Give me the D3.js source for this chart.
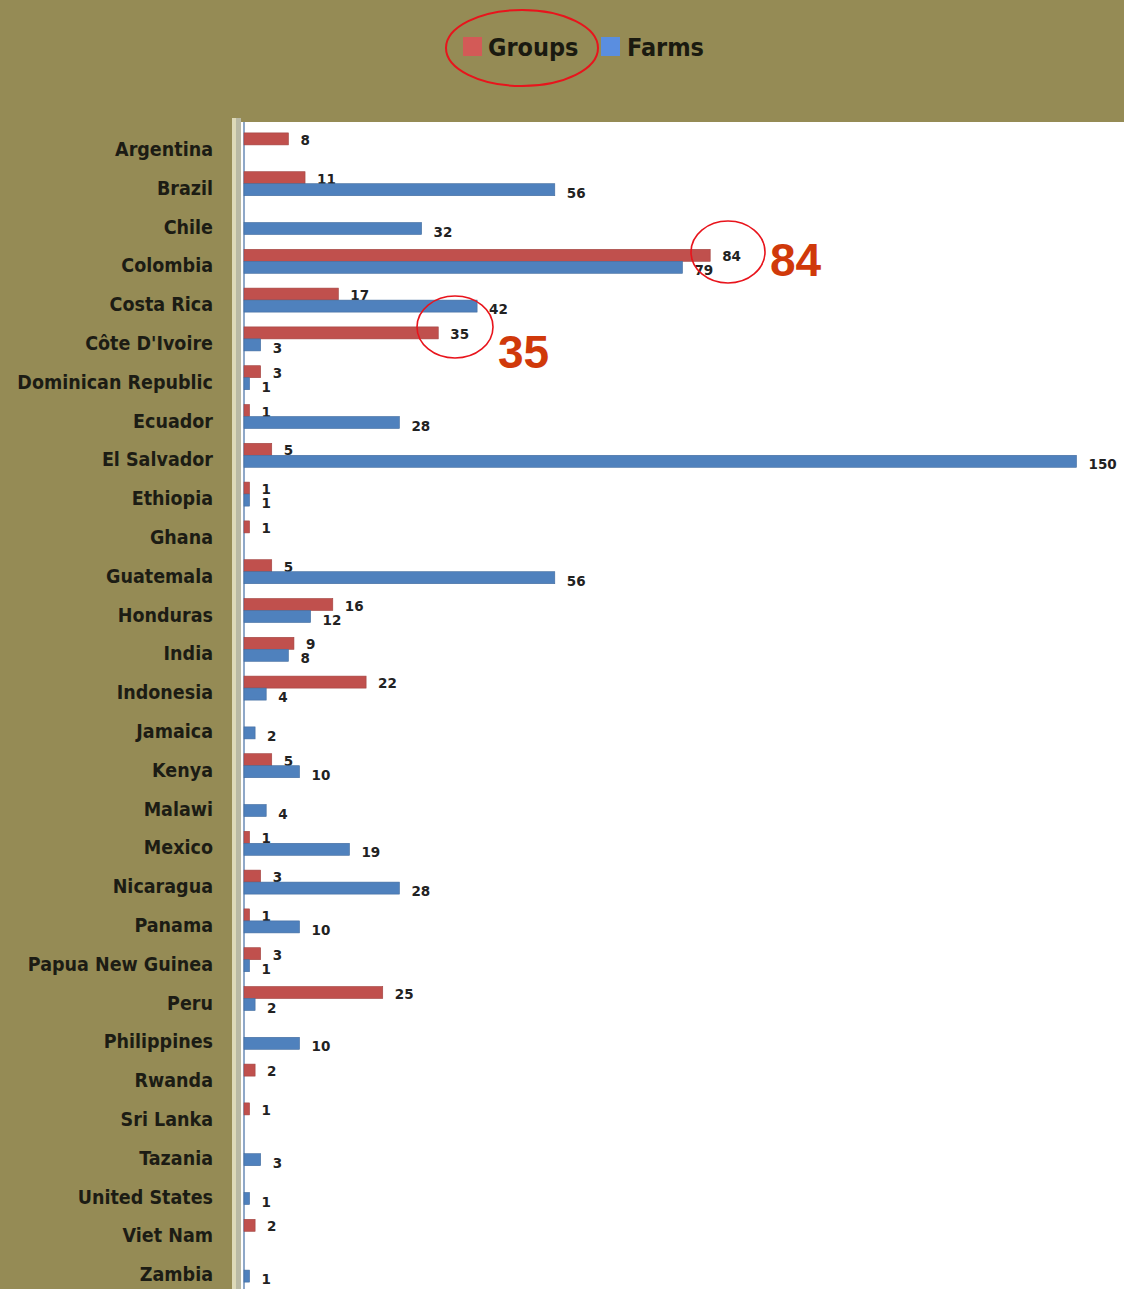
<!DOCTYPE html>
<html>
<head>
<meta charset="utf-8">
<script src="https://cdn.jsdelivr.net/npm/d3@7"></script>
<style>
  html, body { margin: 0; padding: 0; background: #958b55; }
  svg { display: block; }
</style>
</head>
<body>
<svg id="chart" width="1124" height="1289"></svg>
<script>
const countries = ["Argentina","Brazil","Chile","Colombia","Costa Rica","Côte D'Ivoire","Dominican Republic","Ecuador","El Salvador","Ethiopia","Ghana","Guatemala","Honduras","India","Indonesia","Jamaica","Kenya","Malawi","Mexico","Nicaragua","Panama","Papua New Guinea","Peru","Philippines","Rwanda","Sri Lanka","Tazania","United States","Viet Nam","Zambia"];
const groups = [8,11,null,84,17,35,3,1,5,1,1,5,16,9,22,null,5,null,1,3,1,3,25,null,2,1,null,null,2,null];
const farms  = [null,56,32,79,42,3,1,28,150,1,null,56,12,8,4,2,10,4,19,28,10,1,2,10,null,null,3,1,null,1];
const seriesNames = ["Groups","Farms"];
const seriesColors = ["#c0504d","#4f81bd"];
const highlights = [{country:"Colombia", value:84}, {country:"Côte D'Ivoire", value:35}];

const svg = d3.select("#chart");
const W = 1124, H = 1289;
const bg = "#958b55";

svg.append("rect").attr("width", W).attr("height", H).attr("fill", bg);

// plot area
svg.append("rect").attr("x", 241).attr("y", 122).attr("width", W - 241).attr("height", H - 122).attr("fill", "#ffffff");
svg.append("rect").attr("x", 232).attr("y", 118).attr("width", 4).attr("height", H - 118).attr("fill", "#ddd9b8");
svg.append("rect").attr("x", 236).attr("y", 118).attr("width", 5).attr("height", H - 118).attr("fill", "#b9b9a4");

const x = d3.scaleLinear().domain([0, 160]).range([244, 244 + 5.55 * 160]);
const y = d3.scaleBand().domain(countries).range([125.5, 125.5 + 38.8 * countries.length]).padding(0);
const barH = 12;

// axis line
svg.append("line").attr("x1", x(0)).attr("x2", x(0)).attr("y1", 122).attr("y2", H)
  .attr("stroke", "#8fa8c8").attr("stroke-width", 2);

const data = [groups, farms];
data.forEach((vals, si) => {
  const g = svg.append("g");
  countries.forEach((c, i) => {
    const v = vals[i];
    if (v == null) return;
    const cy = y(c) + y.bandwidth() / 2;
    const by = si === 0 ? cy - barH : cy;
    g.append("rect")
      .attr("x", x(0)).attr("y", by)
      .attr("width", x(v) - x(0)).attr("height", barH)
      .attr("fill", seriesColors[si])
      .attr("stroke", d3.color(seriesColors[si]).darker(0.5))
      .attr("stroke-width", 0.6);
    g.append("text")
      .attr("x", x(v) + 12).attr("y", by + barH / 2 + (si === 0 ? 6 : 8))
      .attr("font-family", "DejaVu Sans, sans-serif")
      .attr("font-size", 13.5).attr("font-weight", "bold")
      .attr("fill", "#222")
      .text(v);
  });
});

// category labels
svg.append("g").selectAll("text").data(countries).join("text")
  .attr("x", 213)
  .attr("y", d => y(d) + y.bandwidth() / 2 + 11)
  .attr("text-anchor", "end")
  .attr("font-family", "DejaVu Sans Condensed, DejaVu Sans, sans-serif")
  .attr("font-weight", "bold")
  .attr("font-size", 19.5)
  .attr("fill", "#1c1c14")
  .text(d => d);

// legend
const leg = svg.append("g");
const legItems = [{x: 463, tx: 488}, {x: 601, tx: 627}];
seriesNames.forEach((n, i) => {
  leg.append("rect").attr("x", legItems[i].x).attr("y", 37).attr("width", 19).attr("height", 19)
    .attr("fill", i === 0 ? "#d35a57" : "#5a8ee0");
  leg.append("text").attr("x", legItems[i].tx).attr("y", 56)
    .attr("font-family", "DejaVu Sans Condensed, DejaVu Sans, sans-serif")
    .attr("font-weight", "bold").attr("font-size", 25)
    .attr("fill", "#1a1a10").text(n);
});
leg.append("ellipse").attr("cx", 522).attr("cy", 48).attr("rx", 76).attr("ry", 38)
  .attr("fill", "none").attr("stroke", "#e8141c").attr("stroke-width", 2);

// highlight annotations
const hlPos = [
  {ex: 728, ey: 252, rx: 37, ry: 31, tx: 770, ty: 276},
  {ex: 455, ey: 327, rx: 38, ry: 31, tx: 498, ty: 368}
];
highlights.forEach((h, i) => {
  const p = hlPos[i];
  svg.append("ellipse").attr("cx", p.ex).attr("cy", p.ey).attr("rx", p.rx).attr("ry", p.ry)
    .attr("fill", "none").attr("stroke", "#e8141c").attr("stroke-width", 1.6);
  svg.append("text").attr("x", p.tx).attr("y", p.ty)
    .attr("font-family", "Liberation Sans, Arial, sans-serif")
    .attr("font-weight", "bold").attr("font-size", 46)
    .attr("fill", "#d0390a").text(h.value);
});
</script>
</body>
</html>
